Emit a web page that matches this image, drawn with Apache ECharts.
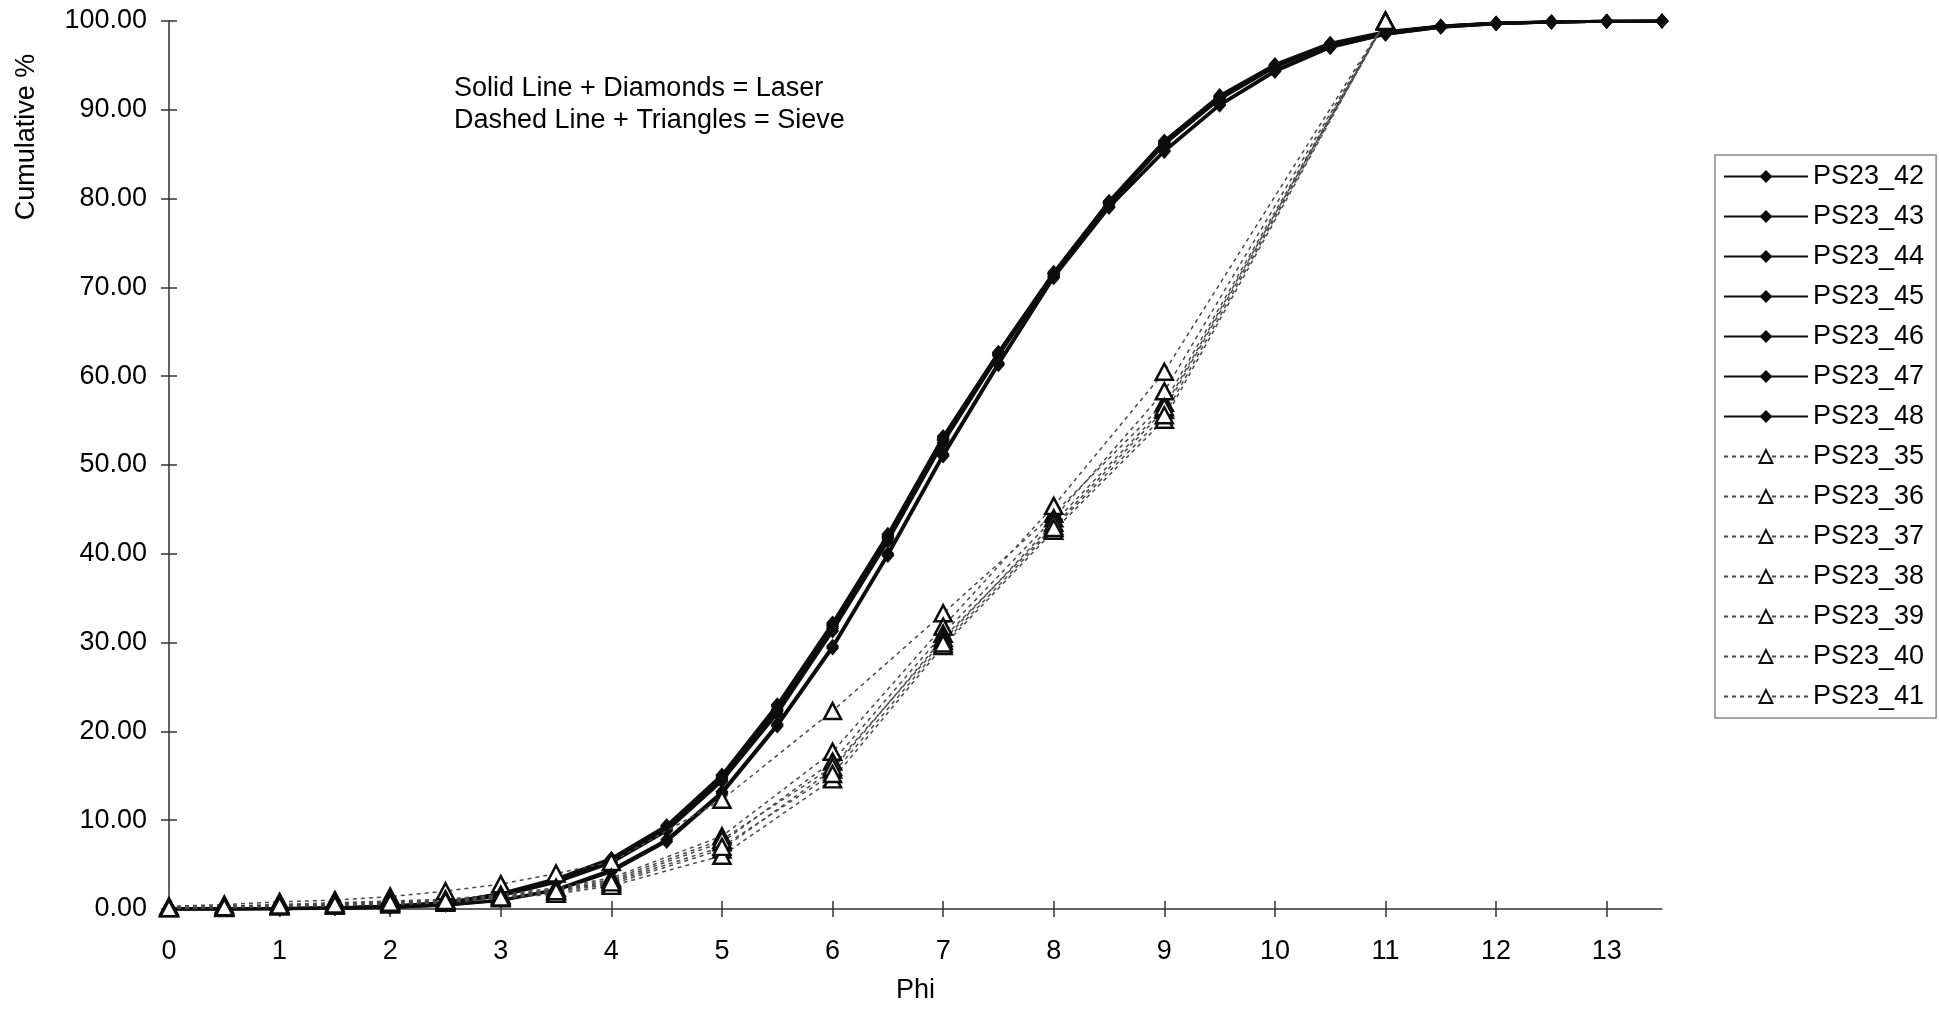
<!DOCTYPE html>
<html>
<head>
<meta charset="utf-8">
<title>Cumulative % vs Phi</title>
<script src="https://cdn.jsdelivr.net/npm/echarts@6/dist/echarts.min.js"></script>
<style>
  html, body { margin: 0; padding: 0; background: #fff; }
  #chart { width: 1939px; height: 1009px; }
</style>
</head>
<body>
<div id="chart"></div>
<script>
// Phi classes measured by each method
const laserPhi = [0, 0.5, 1, 1.5, 2, 2.5, 3, 3.5, 4, 4.5, 5, 5.5, 6, 6.5, 7, 7.5, 8, 8.5, 9, 9.5, 10, 10.5, 11, 11.5, 12, 12.5, 13, 13.5];
const sievePhi = [0, 0.5, 1, 1.5, 2, 2.5, 3, 3.5, 4, 5, 6, 7, 8, 9, 11];

// Laser samples (cumulative %)
const laserNames = ['PS23_42', 'PS23_43', 'PS23_44', 'PS23_45', 'PS23_46', 'PS23_47', 'PS23_48'];
const ps23_42 = [0, 0, 0.05, 0.12, 0.3, 0.7, 1.7, 3.3, 5.6, 9.3, 15.0, 22.8, 32.0, 42.0, 53.0, 62.6, 71.6, 79.6, 86.4, 91.5, 95.0, 97.4, 98.7, 99.4, 99.75, 99.9, 99.97, 100];
const ps23_43 = [0, 0, 0.02, 0.08, 0.2, 0.45, 1.0, 2.2, 4.4, 7.8, 13.2, 20.8, 29.6, 40.0, 51.2, 61.5, 71.2, 79.1, 85.4, 90.6, 94.4, 97.1, 98.5, 99.3, 99.7, 99.9, 99.97, 100];
const ps23_44 = [0, 0, 0.04, 0.1, 0.28, 0.65, 1.6, 3.1, 5.4, 9.0, 14.6, 22.3, 31.6, 41.7, 52.8, 62.5, 71.5, 79.5, 86.2, 91.3, 94.9, 97.3, 98.7, 99.4, 99.75, 99.9, 99.97, 100];
const ps23_45 = [0, 0, 0.05, 0.11, 0.3, 0.68, 1.65, 3.2, 5.5, 9.1, 14.8, 22.5, 31.8, 41.9, 52.9, 62.4, 71.6, 79.6, 86.3, 91.4, 95.0, 97.4, 98.7, 99.4, 99.75, 99.9, 99.97, 100];
const ps23_46 = [0, 0, 0.03, 0.1, 0.26, 0.6, 1.5, 3.0, 5.2, 8.8, 14.4, 22.0, 31.3, 41.4, 52.5, 62.3, 71.4, 79.4, 86.1, 91.2, 94.8, 97.3, 98.6, 99.35, 99.73, 99.9, 99.97, 100];
const ps23_47 = [0, 0, 0.02, 0.07, 0.18, 0.42, 0.95, 2.1, 4.2, 7.6, 13.0, 20.6, 29.4, 39.8, 51.0, 61.3, 71.1, 79.0, 85.3, 90.5, 94.3, 97.0, 98.5, 99.3, 99.7, 99.9, 99.97, 100];
const ps23_48 = [0, 0, 0.05, 0.13, 0.32, 0.72, 1.75, 3.4, 5.7, 9.4, 15.1, 23.0, 32.2, 42.2, 53.2, 62.7, 71.7, 79.7, 86.5, 91.6, 95.1, 97.5, 98.8, 99.45, 99.78, 99.92, 99.98, 100];
const laserValues = [ps23_42, ps23_43, ps23_44, ps23_45, ps23_46, ps23_47, ps23_48];

// Sieve samples (cumulative %)
const sieveNames = ['PS23_35', 'PS23_36', 'PS23_37', 'PS23_38', 'PS23_39', 'PS23_40', 'PS23_41'];
const ps23_35 = [0.3, 0.5, 0.8, 1.0, 1.4, 2.0, 2.8, 4.0, 5.3, 12.3, 22.3, 33.3, 44.5, 57.0, 100];
const ps23_36 = [0.2, 0.3, 0.5, 0.7, 0.9, 1.1, 1.6, 2.4, 3.5, 8.2, 17.7, 31.8, 45.4, 60.5, 100];
const ps23_37 = [0.1, 0.2, 0.4, 0.5, 0.7, 0.9, 1.4, 2.1, 3.1, 7.5, 16.6, 31.0, 44.0, 58.3, 100];
const ps23_38 = [0.1, 0.2, 0.3, 0.4, 0.6, 0.8, 1.3, 1.9, 2.8, 6.7, 15.7, 30.5, 43.1, 56.2, 100];
const ps23_39 = [0.1, 0.1, 0.3, 0.4, 0.5, 0.7, 1.2, 1.7, 2.6, 6.0, 14.6, 29.6, 42.6, 55.1, 100];
const ps23_40 = [0.2, 0.3, 0.5, 0.6, 0.8, 1.0, 1.5, 2.2, 3.3, 7.8, 16.0, 30.2, 43.5, 56.5, 100];
const ps23_41 = [0.1, 0.2, 0.4, 0.5, 0.7, 0.9, 1.3, 2.0, 3.0, 7.0, 15.2, 29.9, 42.9, 55.6, 100];
const sieveValues = [ps23_35, ps23_36, ps23_37, ps23_38, ps23_39, ps23_40, ps23_41];

// Axis ticks
const phiTicks = [0, 1, 2, 3, 4, 5, 6, 7, 8, 9, 10, 11, 12, 13];
const yTicks = [0, 10, 20, 30, 40, 50, 60, 70, 80, 90, 100];

const FONT = "'Liberation Sans', Arial, sans-serif";
const FS = 27;
const zip = (xs, ys) => xs.map((x, i) => [x, ys[i]]);

const laserSeries = laserNames.map((name, i) => ({
  name,
  type: 'line',
  data: zip(laserPhi, laserValues[i]),
  symbol: 'diamond',
  symbolSize: [13, 15],
  showSymbol: true,
  lineStyle: { color: '#0d0d0d', width: 3, type: 'solid' },
  itemStyle: { color: '#0d0d0d', borderColor: '#0d0d0d', borderWidth: 0 },
  animation: false,
  z: 2
}));

const sieveSeries = sieveNames.map((name, i) => ({
  name,
  type: 'line',
  data: zip(sievePhi, sieveValues[i]),
  symbol: 'triangle',
  symbolSize: [17, 16],
  lineStyle: { color: '#4a4a4a', width: 1.5, type: [4, 4] },
  itemStyle: { color: '#fff', borderColor: '#0d0d0d', borderWidth: 2.5 },
  animation: false,
  z: 3
}));

const axisLineStyle = { color: '#333', width: 1.5 };

const chart = echarts.init(document.getElementById('chart'), null, { renderer: 'canvas' });
chart.setOption({
  backgroundColor: '#fff',
  animation: false,
  textStyle: { fontFamily: FONT, color: '#000' },
  grid: { left: 169, top: 21, width: 1493, height: 889, containLabel: false },
  xAxis: [
    {
      type: 'value', min: 0, max: 13.5, interval: 1,
      name: 'Phi', nameLocation: 'middle', nameGap: 68,
      nameTextStyle: { fontFamily: FONT, fontSize: FS, color: '#000' },
      axisLine: { show: true, onZero: false, lineStyle: axisLineStyle },
      axisTick: { show: true, length: 8, inside: false, customValues: phiTicks, lineStyle: axisLineStyle },
      axisLabel: { customValues: phiTicks, margin: 29, fontFamily: FONT, fontSize: FS, color: '#000' },
      splitLine: { show: false }
    },
    {
      type: 'value', min: 0, max: 13.5, interval: 1, position: 'bottom', offset: 0,
      axisLine: { show: false },
      axisTick: { show: true, length: 8, inside: true, customValues: phiTicks, lineStyle: axisLineStyle },
      axisLabel: { show: false },
      splitLine: { show: false }
    }
  ],
  yAxis: [
    {
      type: 'value', min: 0, max: 100, interval: 10,
      axisLine: { show: true, onZero: false, lineStyle: axisLineStyle },
      axisTick: { show: true, length: 8, inside: false, customValues: yTicks, lineStyle: axisLineStyle },
      axisLabel: {
        customValues: yTicks, margin: 22, fontFamily: FONT, fontSize: FS, color: '#000',
        formatter: v => v.toFixed(2)
      },
      splitLine: { show: false }
    },
    {
      type: 'value', min: 0, max: 100, interval: 10, position: 'left', offset: 0,
      axisLine: { show: false },
      axisTick: { show: true, length: 8, inside: true, customValues: yTicks, lineStyle: axisLineStyle },
      axisLabel: { show: false },
      splitLine: { show: false }
    }
  ],
  legend: {
    orient: 'vertical',
    left: 1715, top: 155,
    data: laserNames.concat(sieveNames),
    itemWidth: 84, itemHeight: 16, itemGap: 13,
    padding: [8, 12, 8, 8],
    borderColor: '#888', borderWidth: 1.5,
    backgroundColor: '#fff',
    selectedMode: false,
    textStyle: { fontFamily: FONT, fontSize: FS, lineHeight: 27, color: '#000' }
  },
  graphic: [
    {
      type: 'text', x: 27, y: 137, rotation: Math.PI / 2,
      style: { text: 'Cumulative %', font: FS + "px 'Liberation Sans', Arial, sans-serif", fill: '#000', align: 'center', verticalAlign: 'middle' }
    },
    {
      type: 'text', x: 454, y: 89,
      style: { text: 'Solid Line + Diamonds = Laser', font: FS + "px 'Liberation Sans', Arial, sans-serif", fill: '#000', align: 'left', verticalAlign: 'middle' }
    },
    {
      type: 'text', x: 454, y: 121,
      style: { text: 'Dashed Line + Triangles = Sieve', font: FS + "px 'Liberation Sans', Arial, sans-serif", fill: '#000', align: 'left', verticalAlign: 'middle' }
    }
  ],
  series: laserSeries.concat(sieveSeries)
});
</script>
</body>
</html>
